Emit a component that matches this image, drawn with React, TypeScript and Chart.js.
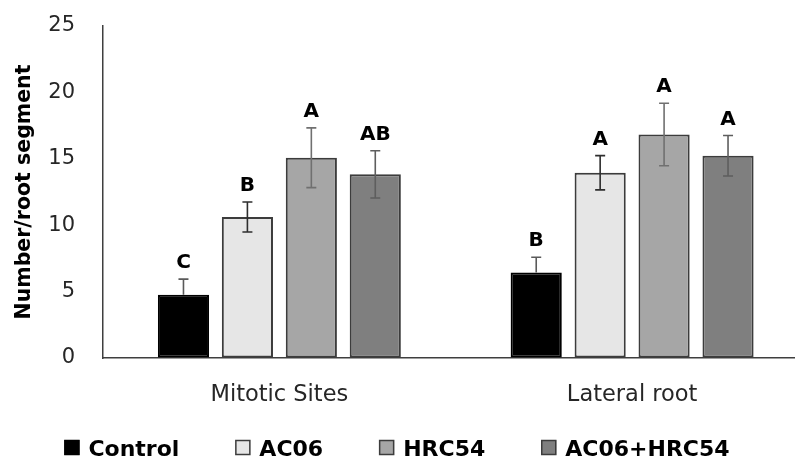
import React, { useEffect, useRef } from "react";
import { Chart, registerables } from "chart.js";

Chart.register(...registerables);

const categories = ["Mitotic Sites", "Lateral root"];
const seriesNames = ["Control", "AC06", "HRC54", "AC06+HRC54"];

const controlValues = [4.76, 6.44];
const ac06Values = [10.62, 13.95];
const hrc54Values = [15.08, 16.83];
const comboValues = [13.83, 15.23];

const controlErrors = [1.18, 1.15];
const ac06Errors = [1.13, 1.29];
const hrc54Errors = [2.25, 2.35];
const comboErrors = [1.78, 1.52];

const controlLetters = ["C", "B"];
const ac06Letters = ["B", "A"];
const hrc54Letters = ["A", "A"];
const comboLetters = ["AB", "A"];

const yMin = 0;
const yMax = 25;
const yStep = 5;
const yTitle = "Number/root segment";

const fillColors = ["#000000", "#e6e6e6", "#a6a6a6", "#7f7f7f"];
const borderColors = ["#000000", "#3c3c3c", "#3c3c3c", "#3c3c3c"];
const errorColors = ["#5a5a5a", "#2e2e2e", "#707070", "#5e5e5e"];
const errorLowerVisible = [false, true, true, true];

const FONT = "'DejaVu Sans', sans-serif";

const errorsBySeries = [controlErrors, ac06Errors, hrc54Errors, comboErrors];
const lettersBySeries = [controlLetters, ac06Letters, hrc54Letters, comboLetters];

const errorBarPlugin = {
  id: "errorBars",
  afterDatasetsDraw(chart: any) {
    const ctx = chart.ctx;
    const y = chart.scales.y;
    chart.data.datasets.forEach((ds: any, i: number) => {
      const meta = chart.getDatasetMeta(i);
      const errs = errorsBySeries[i];
      const letters = lettersBySeries[i];
      meta.data.forEach((el: any, j: number) => {
        const v = ds.data[j];
        const e = errs[j];
        const top = y.getPixelForValue(v + e);
        const bot = errorLowerVisible[i] ? y.getPixelForValue(v - e) : y.getPixelForValue(v);
        const x = el.x;
        ctx.save();
        ctx.strokeStyle = errorColors[i];
        ctx.lineWidth = 1.6;
        ctx.beginPath();
        ctx.moveTo(x, top);
        ctx.lineTo(x, bot);
        ctx.moveTo(x - 5, top);
        ctx.lineTo(x + 5, top);
        if (errorLowerVisible[i]) {
          ctx.moveTo(x - 5, bot);
          ctx.lineTo(x + 5, bot);
        }
        ctx.stroke();
        ctx.fillStyle = "#000000";
        ctx.font = `bold 20px ${FONT}`;
        ctx.textAlign = "center";
        ctx.textBaseline = "alphabetic";
        ctx.fillText(letters[j], x, top - 11);
        ctx.restore();
      });
    });
  },
};

const legendPlugin = {
  id: "customLegend",
  afterDraw(chart: any) {
    const ctx = chart.ctx;
    ctx.save();
    ctx.font = `bold 22px ${FONT}`;
    const box = 15;
    const boxGap = 9;
    const itemGap = 56;
    const widths = seriesNames.map((n) => box + boxGap + ctx.measureText(n).width);
    const total = widths.reduce((a, b) => a + b, 0) + itemGap * (seriesNames.length - 1);
    let x = 397 - total / 2;
    const baseline = 456;
    seriesNames.forEach((name, i) => {
      ctx.fillStyle = fillColors[i];
      ctx.fillRect(x, baseline - 16, box, box);
      ctx.strokeStyle = borderColors[i];
      ctx.lineWidth = 1.5;
      ctx.strokeRect(x + 0.5, baseline - 15.5, box - 1, box - 1);
      ctx.fillStyle = "#000000";
      ctx.textAlign = "left";
      ctx.textBaseline = "alphabetic";
      ctx.fillText(name, x + box + boxGap, baseline);
      x += widths[i] + itemGap;
    });
    ctx.restore();
  },
};

export default function App() {
  const canvasRef = useRef<HTMLCanvasElement | null>(null);

  useEffect(() => {
    const canvas = canvasRef.current;
    if (!canvas) return;
    const seriesValues = [controlValues, ac06Values, hrc54Values, comboValues];
    const chart = new Chart(canvas, {
      type: "bar",
      data: {
        labels: categories,
        datasets: seriesNames.map((name, i) => ({
          label: name,
          data: seriesValues[i],
          backgroundColor: fillColors[i],
          borderColor: borderColors[i],
          borderWidth: 2,
          borderSkipped: false,
          barPercentage: 0.8,
          categoryPercentage: 0.725,
        })),
      },
      options: {
        responsive: false,
        animation: false,
        devicePixelRatio: 1,
        layout: { padding: { left: 0, top: 26, right: 1.5, bottom: 0 } },
        plugins: {
          legend: { display: false },
          tooltip: { enabled: false },
        },
        scales: {
          x: {
            grid: { display: false, drawTicks: false },
            border: { display: true, color: "#3f3f3f", width: 1.5 },
            ticks: {
              font: { family: FONT, size: 22.5 },
              color: "#262626",
              padding: 24,
            },
            afterFit(scale: any) {
              scale.height = 102;
            },
          },
          y: {
            min: yMin,
            max: yMax,
            grid: {
              display: true,
              drawOnChartArea: false,
              drawTicks: true,
              tickLength: 28,
              color: "rgba(0,0,0,0)",
            },
            border: { display: true, color: "#3f3f3f", width: 1.5 },
            ticks: {
              stepSize: yStep,
              font: { family: FONT, size: 21 },
              color: "#262626",
              padding: 0,
            },
            title: {
              display: true,
              text: yTitle,
              font: { family: FONT, size: 20.5, weight: "bold" },
              color: "#000000",
              padding: { top: 12, bottom: 0 },
            },
            afterFit(scale: any) {
              scale.width = 103;
            },
          },
        },
      },
      plugins: [errorBarPlugin, legendPlugin],
    });
    return () => chart.destroy();
  }, []);

  return (
    <div
      style={{
        position: "fixed",
        left: 0,
        top: 0,
        width: 795,
        height: 460,
        overflow: "hidden",
        background: "#ffffff",
      }}
    >
      <canvas
        ref={canvasRef}
        width={810}
        height={460}
        style={{ width: 810, height: 460, display: "block" }}
      />
    </div>
  );
}
